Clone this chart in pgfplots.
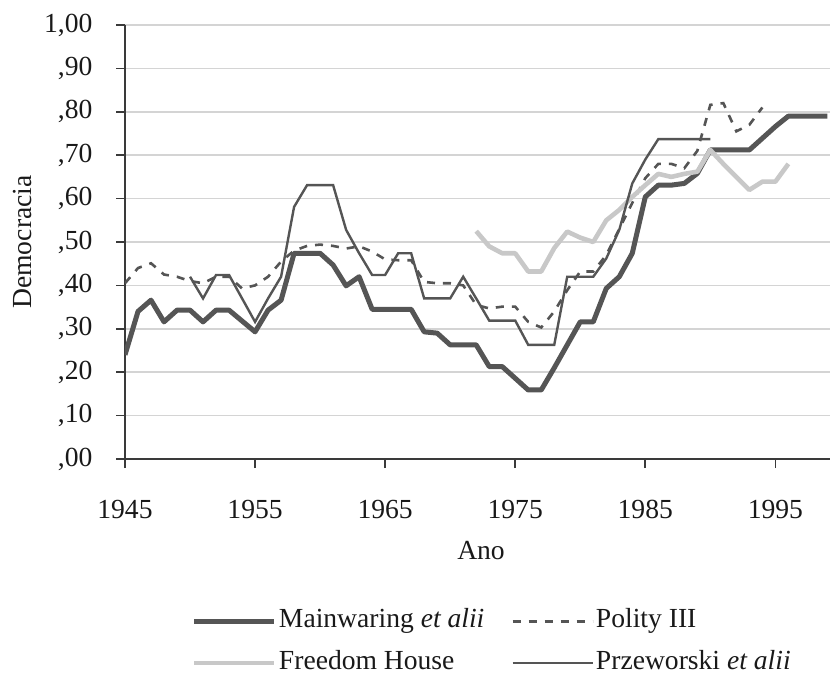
\documentclass[border=0pt]{standalone}
\usepackage{fontspec}
\setmainfont{Liberation Serif}
\usepackage{pgfplots}
\pgfplotsset{compat=1.18}
\usepackage{pgfplotstable}
\definecolor{dk}{HTML}{555555}
\definecolor{lt}{HTML}{C8C8C8}
\definecolor{grd}{HTML}{D4D4D4}
\definecolor{axc}{HTML}{3A3A3A}

\pgfplotstableread{
year v
1945 0.240
1946 0.340
1947 0.366
1948 0.316
1949 0.343
1950 0.343
1951 0.316
1952 0.343
1953 0.343
1954 0.318
1955 0.293
1956 0.343
1957 0.366
1958 0.474
1959 0.474
1960 0.474
1961 0.447
1962 0.399
1963 0.420
1964 0.345
1965 0.345
1966 0.345
1967 0.345
1968 0.293
1969 0.290
1970 0.263
1971 0.263
1972 0.263
1973 0.213
1974 0.213
1975 0.186
1976 0.159
1977 0.159
1978 0.210
1979 0.263
1980 0.316
1981 0.316
1982 0.393
1983 0.420
1984 0.474
1985 0.604
1986 0.631
1987 0.631
1988 0.635
1989 0.658
1990 0.712
1991 0.712
1992 0.712
1993 0.712
1994 0.739
1995 0.766
1996 0.790
1997 0.790
1998 0.790
1999 0.790
}\mainwaring

\pgfplotstableread{
year v
1945 0.405
1946 0.440
1947 0.451
1948 0.425
1949 0.420
1950 0.410
1951 0.405
1952 0.420
1953 0.420
1954 0.393
1955 0.400
1956 0.420
1957 0.455
1958 0.480
1959 0.491
1960 0.494
1961 0.491
1962 0.485
1963 0.490
1964 0.478
1965 0.460
1966 0.458
1967 0.458
1968 0.408
1969 0.405
1970 0.405
1971 0.400
1972 0.355
1973 0.347
1974 0.351
1975 0.351
1976 0.316
1977 0.303
1978 0.340
1979 0.389
1980 0.432
1981 0.432
1982 0.470
1983 0.530
1984 0.590
1985 0.647
1986 0.680
1987 0.680
1988 0.670
1989 0.710
1990 0.816
1991 0.820
1992 0.755
1993 0.770
1994 0.810
}\polity

\pgfplotstableread{
year v
1972 0.525
1973 0.490
1974 0.474
1975 0.474
1976 0.432
1977 0.432
1978 0.486
1979 0.524
1980 0.510
1981 0.500
1982 0.550
1983 0.574
1984 0.604
1985 0.631
1986 0.657
1987 0.650
1988 0.657
1989 0.662
1990 0.712
1991 0.680
1992 0.650
1993 0.620
1994 0.639
1995 0.639
1996 0.680
}\freedom

\pgfplotstableread{
year v
1950 0.420
1951 0.370
1952 0.424
1953 0.424
1954 0.370
1955 0.316
1956 0.370
1957 0.420
1958 0.581
1959 0.631
1960 0.631
1961 0.631
1962 0.528
1963 0.474
1964 0.424
1965 0.424
1966 0.474
1967 0.474
1968 0.370
1969 0.370
1970 0.370
1971 0.420
1972 0.370
1973 0.319
1974 0.319
1975 0.319
1976 0.263
1977 0.263
1978 0.263
1979 0.420
1980 0.420
1981 0.420
1982 0.462
1983 0.528
1984 0.635
1985 0.690
1986 0.737
1987 0.737
1988 0.737
1989 0.737
1990 0.737
}\przeworski

\begin{document}
\fontsize{13.8}{16.5}\selectfont
\begin{tikzpicture}
\path[use as bounding box] (-62.5pt,-108pt) rectangle (352.5pt,229.5pt);
\begin{axis}[
  at={(0,0)}, anchor=south west,
  scale only axis, width=352.5pt, height=217pt,
  xmin=1945, xmax=1999.2, ymin=0, ymax=1,
  enlargelimits=false,
  axis lines*=left,
  axis line style={color=axc, line width=0.9pt},
  tick align=outside,
  major tick length=4.5pt,
  tick style={color=axc, line width=0.8pt},
  xtick={1945,1955,1965,1975,1985,1995},
  xticklabels={1945,1955,1965,1975,1985,1995},
  ytick={0,0.1,0.2,0.3,0.4,0.5,0.6,0.7,0.8,0.9,1},
  yticklabels={{,00},{,10},{,20},{,30},{,40},{,50},{,60},{,70},{,80},{,90},{1,00}},
  ymajorgrids,
  major grid style={color=grd, line width=0.8pt},
  xticklabel style={anchor=north, inner sep=0pt, yshift=-16pt, text=black!90},
  yticklabel style={anchor=east, inner sep=0pt, xshift=-11.6pt, text=black!90},
  xlabel={Ano},
  ylabel={Democracia},
  xlabel style={at={(axis description cs:0.505,-0.2327)}, anchor=base, inner sep=0pt, text=black!90},
  ylabel style={at={(axis description cs:-0.1447,0.5)}, anchor=center, inner sep=0pt, rotate=0, text=black!90},
  legend columns=2,
  legend style={at={(axis description cs:0.095,-0.345)}, anchor=north west,
    draw=none, fill=none, inner sep=0pt, outer sep=0pt, row sep=8.35pt,
    nodes={inner sep=0pt, text height=9.5pt, text depth=3pt, text=black!90},
    /tikz/every odd column/.style={column sep=1pt},
    /tikz/every even column/.style={column sep=13.5pt}},
  legend cell align=left,
  legend image code/.code={\draw[#1] (0pt,0pt) -- (40pt,0pt);},
]
\addplot[color=dk, line width=2.5pt, line join=round] table[x=year,y=v] {\mainwaring};
\addlegendentry{Mainwaring \textit{et alii}}
\addplot[color=dk, line width=1.3pt, dash pattern=on 4pt off 4pt] table[x=year,y=v] {\polity};
\addlegendentry{Polity III}
\addplot[color=lt, line width=2.3pt, line join=round] table[x=year,y=v] {\freedom};
\addlegendentry{Freedom House}
\addplot[color=dk, line width=1.2pt] table[x=year,y=v] {\przeworski};
\addlegendentry{Przeworski \textit{et alii}}
\end{axis}
\end{tikzpicture}
\end{document}
